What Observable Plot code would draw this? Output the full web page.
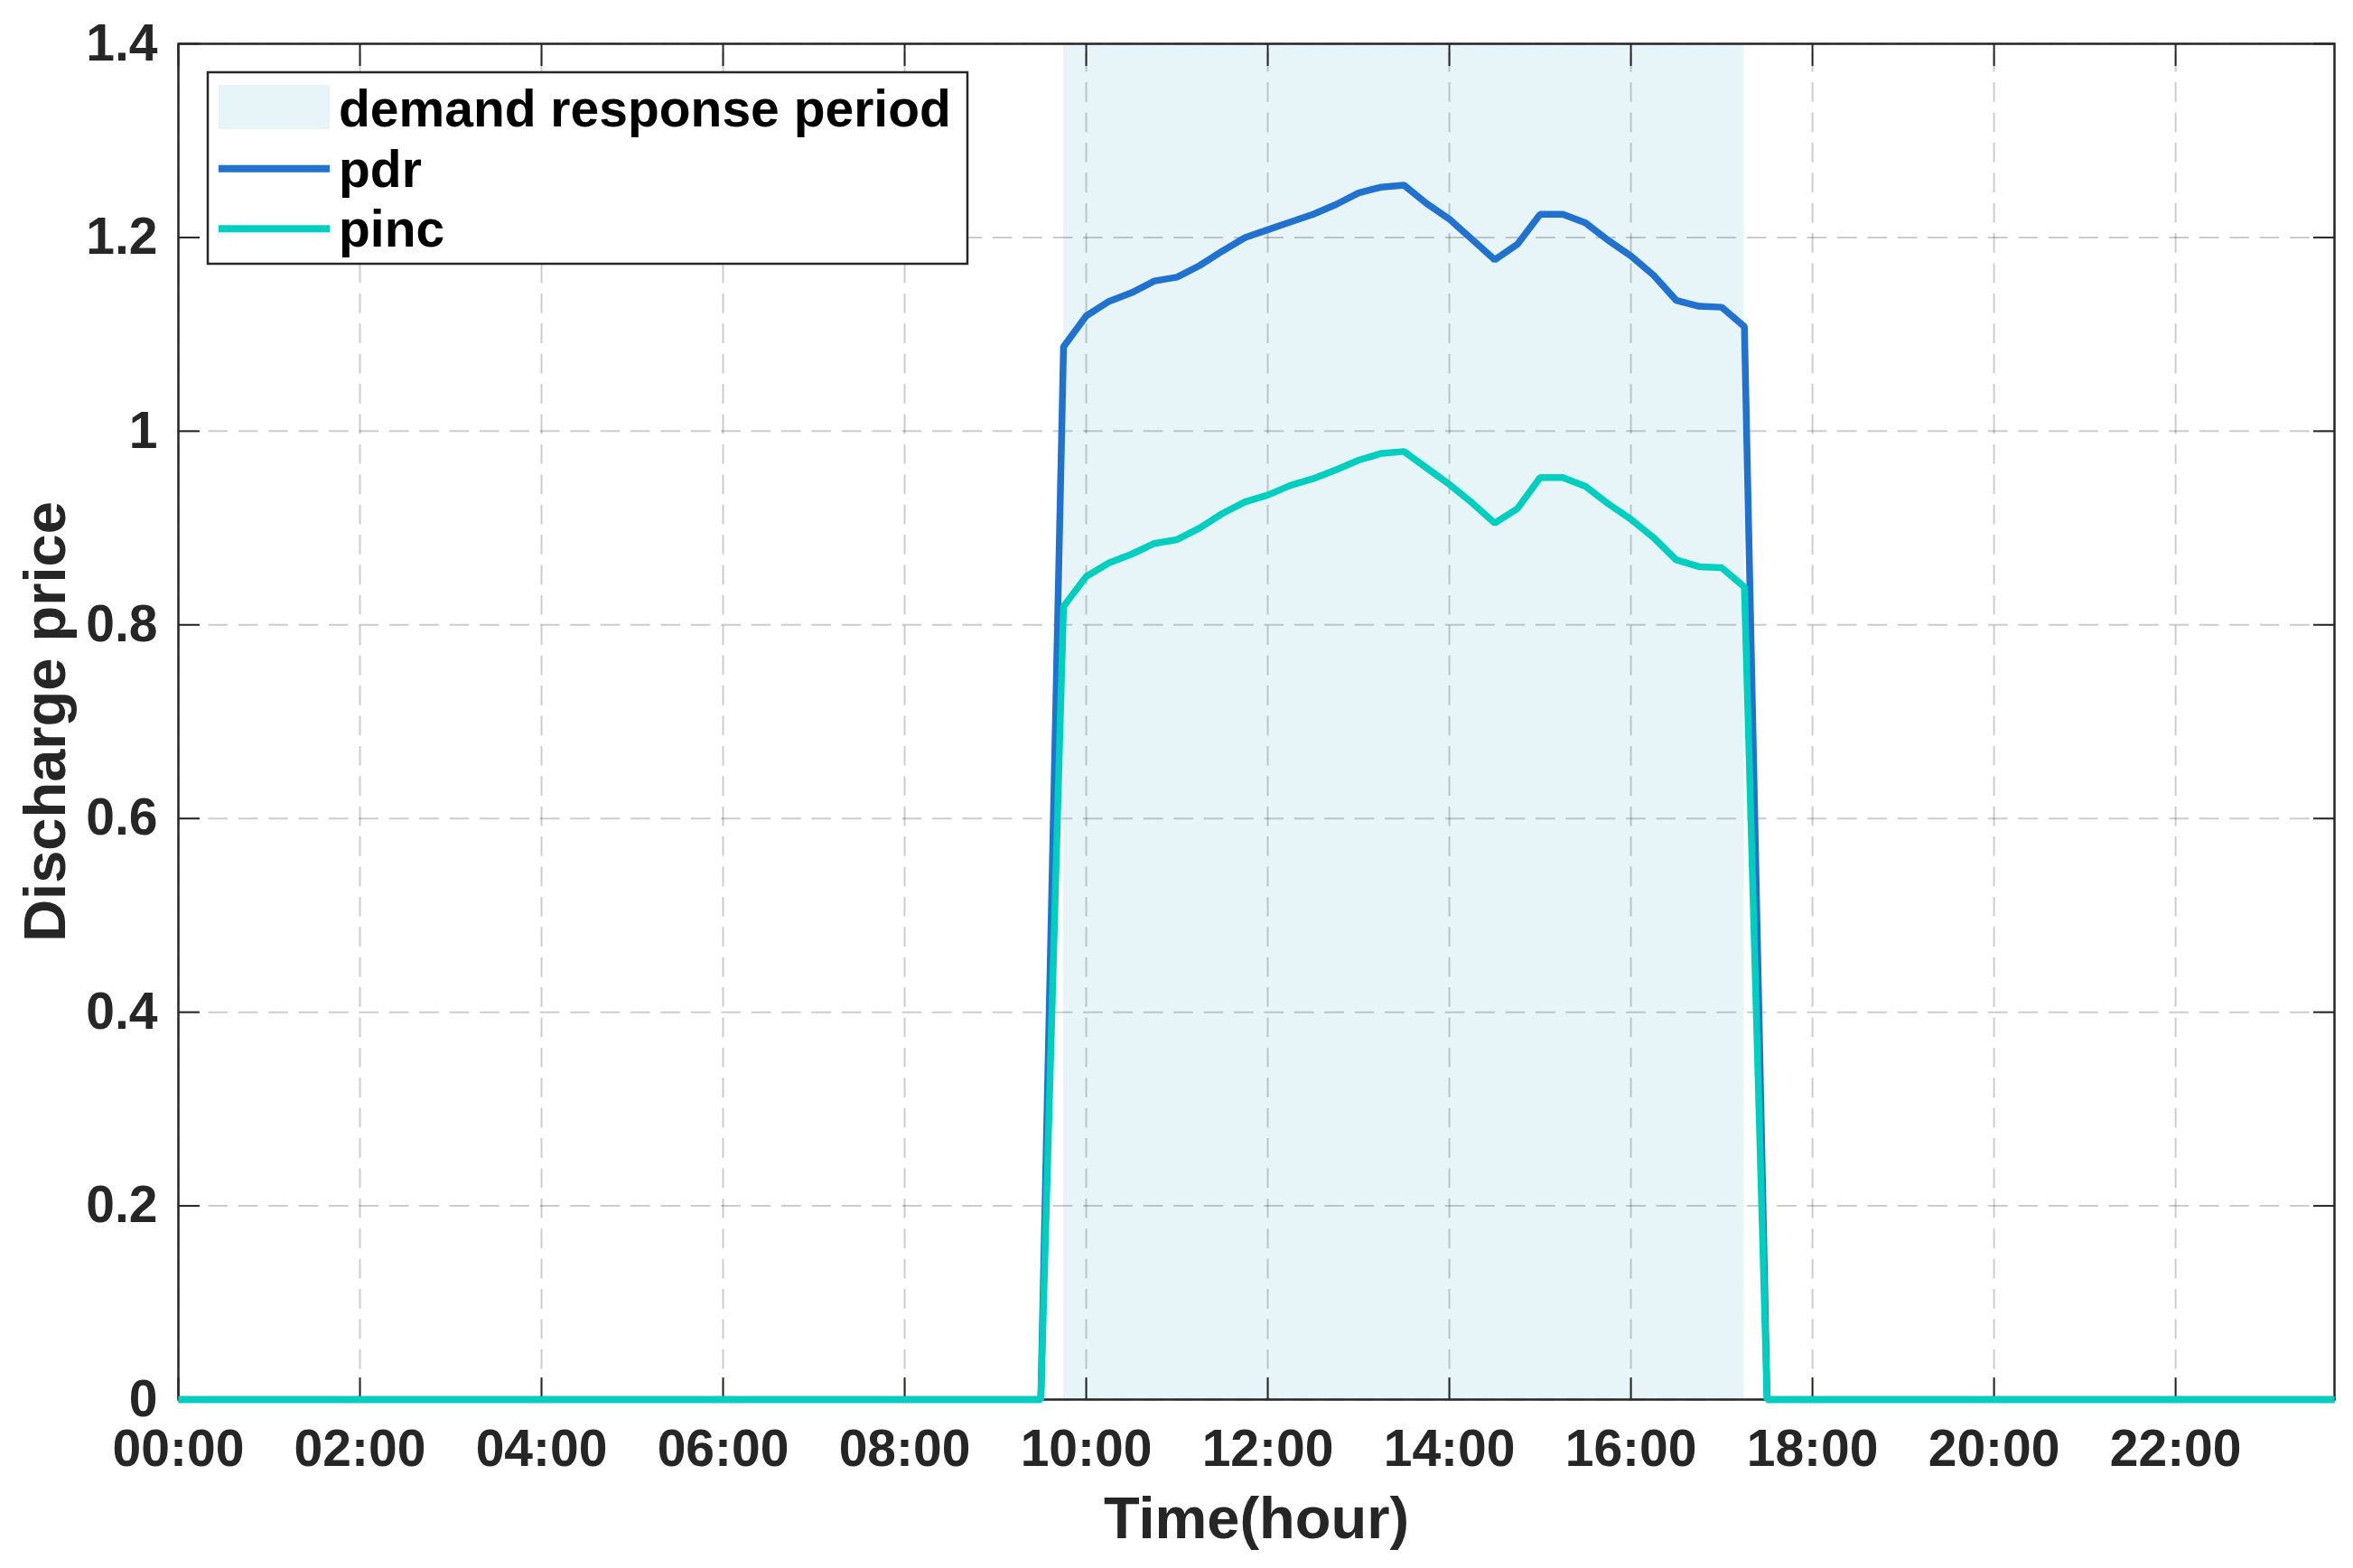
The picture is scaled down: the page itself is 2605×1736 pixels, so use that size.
<!DOCTYPE html>
<html>
<head>
<meta charset="utf-8">
<script src="https://cdn.jsdelivr.net/npm/d3@7"></script>
<script src="https://cdn.jsdelivr.net/npm/@observablehq/plot@0.6"></script>
<style>
  html, body { margin: 0; padding: 0; background: #fff; }
  #wrap { position: relative; width: 2605px; height: 1736px; overflow: hidden; }
  #wrap svg { display: block; }
</style>
</head>
<body>
<div id="wrap"></div>
<script>
// ---- data ----
const times = ["00:00","09:30","09:45","10:00","10:15","10:30","10:45","11:00","11:15","11:30","11:45",
               "12:00","12:15","12:30","12:45","13:00","13:15","13:30","13:45","14:00","14:15","14:30",
               "14:45","15:00","15:15","15:30","15:45","16:00","16:15","16:30","16:45","17:00","17:15",
               "17:30","23:45"];
const pdr  = [0, 0, 1.087, 1.119, 1.134, 1.143, 1.155, 1.159, 1.171, 1.186, 1.200,
              1.208, 1.216, 1.224, 1.234, 1.246, 1.252, 1.254, 1.235, 1.219, 1.198, 1.177,
              1.193, 1.224, 1.224, 1.215, 1.197, 1.181, 1.161, 1.135, 1.129, 1.128, 1.108,
              0, 0];
const pinc = [0, 0, 0.819, 0.850, 0.864, 0.873, 0.884, 0.888, 0.900, 0.915, 0.927,
              0.934, 0.944, 0.951, 0.960, 0.970, 0.977, 0.979, 0.962, 0.945, 0.926, 0.905,
              0.920, 0.952, 0.952, 0.943, 0.925, 0.909, 0.890, 0.867, 0.860, 0.859, 0.839,
              0, 0];
const drPeriod = [{start: "09:45", end: "17:15"}];
const xDomain = ["00:00", "23:45"];
const xTickLabels = ["00:00","02:00","04:00","06:00","08:00","10:00","12:00","14:00","16:00","18:00","20:00","22:00"];
const yTicks = [0, 0.2, 0.4, 0.6, 0.8, 1.0, 1.2, 1.4];
const yTickLabels = ["0", "0.2", "0.4", "0.6", "0.8", "1", "1.2", "1.4"];
const legendLabels = ["demand response period", "pdr", "pinc"];
const xLabel = "Time(hour)";
const yLabel = "Discharge price";

// ---- styles ----
const cPdr = "#2171CE";
const cPinc = "#00CFBF";
const cShade = "#E8F5F8";
const cAxis = "#262626";
const font = "'Liberation Sans', Arial, Helvetica, sans-serif";

const toH = s => { const [h, m] = s.split(":").map(Number); return h + m / 60; };
const rows = times.map((t, i) => ({t: toH(t), pdr: pdr[i], pinc: pinc[i]}));
const xTickVals = xTickLabels.map(toH);
const xFmt = d => xTickLabels[xTickVals.indexOf(d)];
const yFmt = d => yTickLabels[yTicks.indexOf(d)];
const gridStyle = {stroke: "#000", strokeOpacity: 0.2, strokeWidth: 2, strokeDasharray: "21.7,11.7"};

const plot = Plot.plot({
  width: 2605,
  height: 1736,
  marginLeft: 197,
  marginRight: 21,
  marginTop: 48,
  marginBottom: 187,
  style: {fontFamily: font, fontWeight: "bold", background: "#fff", color: cAxis, overflow: "visible"},
  x: {domain: xDomain.map(toH)},
  y: {domain: [yTicks[0], yTicks[yTicks.length - 1]]},
  marks: [
    Plot.rect(drPeriod, {x1: d => toH(d.start), x2: d => toH(d.end),
      y1: yTicks[0], y2: yTicks[yTicks.length - 1], fill: cShade}),
    Plot.ruleX(xTickVals, {x: d => d, y1: yTicks[0], y2: yTicks[yTicks.length - 1], ...gridStyle}),
    Plot.ruleY(yTicks, {y: d => d, ...gridStyle}),
    Plot.frame({stroke: cAxis, strokeWidth: 2.5}),
    Plot.axisX(xTickVals, {anchor: "bottom", tickSize: -24, tickPadding: 57, tickFormat: xFmt,
      fontSize: 57, strokeWidth: 2, label: null}),
    Plot.axisX(xTickVals, {anchor: "top", tickSize: -24, tickFormat: () => "", strokeWidth: 2, label: null}),
    Plot.axisY(yTicks, {anchor: "left", tickSize: -24, tickPadding: 47, tickFormat: yFmt,
      fontSize: 57, strokeWidth: 2, label: null}),
    Plot.axisY(yTicks, {anchor: "right", tickSize: -24, tickFormat: () => "", strokeWidth: 2, label: null}),
    Plot.line(rows, {x: "t", y: "pdr", stroke: cPdr, strokeWidth: 7.5, strokeLinejoin: "miter", strokeLinecap: "butt"}),
    Plot.line(rows, {x: "t", y: "pinc", stroke: cPinc, strokeWidth: 7.5, strokeLinejoin: "miter", strokeLinecap: "butt"}),
    Plot.text([xLabel], {frameAnchor: "bottom", dy: 153, lineAnchor: "bottom", textAnchor: "middle",
      fontSize: 65, fontWeight: "bold", fill: cAxis}),
    Plot.text([yLabel], {frameAnchor: "left", dx: -126, rotate: -90, lineAnchor: "bottom", textAnchor: "middle",
      fontSize: 65, fontWeight: "bold", fill: cAxis})
  ]
});
document.getElementById("wrap").appendChild(plot);

// ---- legend overlay ----
const lg = d3.select("#wrap").append("svg")
  .attr("width", 2605).attr("height", 1736)
  .style("position", "absolute").style("left", "0px").style("top", "0px")
  .style("pointer-events", "none");
lg.append("rect").attr("x", 230).attr("y", 80).attr("width", 841).attr("height", 212)
  .attr("fill", "#fff").attr("stroke", cAxis).attr("stroke-width", 2.5);
lg.append("rect").attr("x", 242).attr("y", 94).attr("width", 123).attr("height", 49).attr("fill", cShade);
lg.append("line").attr("x1", 242).attr("x2", 365).attr("y1", 186.7).attr("y2", 186.7)
  .attr("stroke", cPdr).attr("stroke-width", 8);
lg.append("line").attr("x1", 242).attr("x2", 365).attr("y1", 253.3).attr("y2", 253.3)
  .attr("stroke", cPinc).attr("stroke-width", 8);
const baselines = [140, 206.7, 273.3];
legendLabels.forEach((s, i) => {
  lg.append("text").attr("x", 375).attr("y", baselines[i])
    .attr("font-family", font).attr("font-weight", "bold").attr("font-size", 57)
    .attr("fill", "#000").text(s);
});
</script>
</body>
</html>
